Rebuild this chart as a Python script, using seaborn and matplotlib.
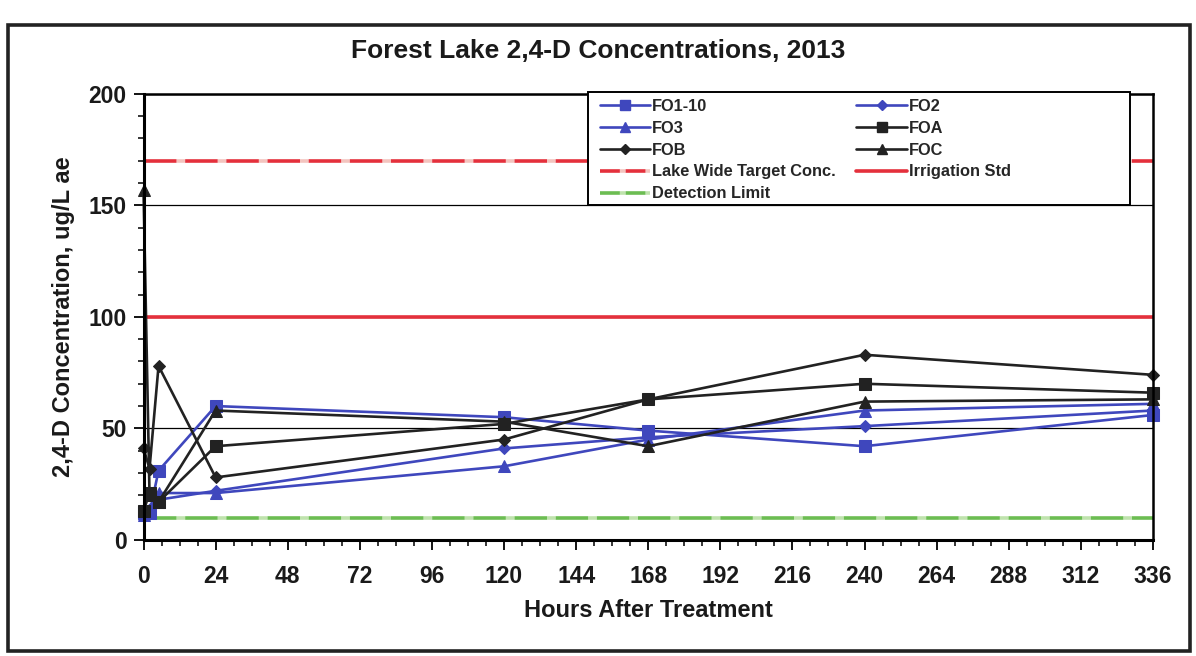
import matplotlib
matplotlib.use("Agg")
import matplotlib.pyplot as plt
from matplotlib.lines import Line2D
from matplotlib.patches import Rectangle
from matplotlib.ticker import MultipleLocator
import pandas as pd
import seaborn as sns

# Sampling times (hours after treatment) and 2,4-D concentrations (ug/L ae)
hours = [0, 2, 5, 24, 120, 168, 240, 336]
fo1_10 = [12, 12, 31, 60, 55, 49, 42, 56]
fo2 = [12, 14, 18, 22, 41, 46, 51, 58]
fo3 = [11, 13, 21, 21, 33, 45, 58, 61]
foa = [13, 21, 17, 42, 52, 63, 70, 66]
fob = [41, 32, 78, 28, 45, 63, 83, 74]
foc = [157, 20, 17, 58, 53, 42, 62, 63]

# Reference levels
lake_target = 170
irrigation_std = 100
detection_limit = 10

x_ticks = list(range(0, 337, 24))
y_ticks = [0, 50, 100, 150, 200]

sns.set_theme(style="white")
plt.rcParams["font.family"] = ["Liberation Sans", "DejaVu Sans"]
plt.rcParams["font.weight"] = "bold"

BLUE = "#3f47bd"
BLACK = "#222222"
RED = "#e4303c"
RED_GAP = "#f3c4bf"
GREEN = "#6cbd52"
GREEN_GAP = "#bfe3ad"
TEXT = "#1a1a1a"

fig = plt.figure(figsize=(11.96, 6.56), dpi=100)
ax = fig.add_axes([0.120, 0.177, 0.844, 0.680])

series = [
    ("FO1-10", fo1_10, BLUE, "s", 8),
    ("FO2", fo2, BLUE, "D", 6.5),
    ("FO3", fo3, BLUE, "^", 8.5),
    ("FOA", foa, BLACK, "s", 8),
    ("FOB", fob, BLACK, "D", 6.5),
    ("FOC", foc, BLACK, "^", 8.5),
]

# Reference lines underneath the data
ax.axhline(lake_target, color=RED, gapcolor=RED_GAP, lw=2.6,
           ls=(0, (9.0, 2.4)), zorder=1)
ax.axhline(irrigation_std, color=RED, lw=2.6, zorder=1)
ax.axhline(detection_limit, color=GREEN, gapcolor=GREEN_GAP, lw=2.6,
           ls=(0, (9.0, 2.4)), zorder=1)

handles = {}
for name, vals, color, marker, ms in series:
    df = pd.DataFrame({"hours": hours, "conc": vals})
    sns.lineplot(data=df, x="hours", y="conc", ax=ax, color=color,
                 marker=marker, markersize=ms, markeredgecolor=color,
                 linewidth=1.9, zorder=3, clip_on=False, legend=False)
    handles[name] = Line2D([], [], color=color, marker=marker,
                           markersize=ms * 0.85, markeredgecolor=color,
                           lw=1.9)

handles["Lake Wide Target Conc."] = Line2D([], [], color=RED, gapcolor=RED_GAP,
                                           lw=2.6, ls=(0, (5.5, 1.6)))
handles["Irrigation Std"] = Line2D([], [], color=RED, lw=2.6)
handles["Detection Limit"] = Line2D([], [], color=GREEN, gapcolor=GREEN_GAP,
                                    lw=2.6, ls=(0, (5.5, 1.6)))

# Legend box (white panel with black frame) and its entries
box = Rectangle((0.44, 0.751), 0.537, 0.253, transform=ax.transAxes,
                facecolor="white", edgecolor="black", lw=1.4, zorder=5,
                clip_on=False)
ax.add_patch(box)

order = ["FO1-10", "FO3", "FOB", "Lake Wide Target Conc.", "Detection Limit",
         "FO2", "FOA", "FOC", "Irrigation Std"]
leg = ax.legend([handles[k] for k in order], order, ncol=2,
                loc="upper left", bbox_to_anchor=(0.438, 1.02),
                frameon=False, handlelength=3.1, handletextpad=0.1,
                labelspacing=0.42, borderpad=0.35, columnspacing=1.25,
                prop={"size": 11.8, "weight": "bold"})
leg.set_zorder(6)

ax.set_xlim(0, 336)
ax.set_ylim(0, 200)
ax.set_xticks(x_ticks)
ax.set_yticks(y_ticks)
ax.xaxis.set_minor_locator(MultipleLocator(6))
ax.yaxis.set_minor_locator(MultipleLocator(10))
ax.tick_params(axis="both", which="major", direction="out", length=7,
               width=1.3, color="black", labelsize=16.5,
               bottom=True, left=True)
ax.tick_params(axis="x", which="major", pad=11)
ax.tick_params(axis="y", which="major", pad=5)
ax.tick_params(axis="both", which="minor", direction="out", length=4,
               width=1.1, color="black", bottom=True, left=True)
for lab in ax.get_xticklabels() + ax.get_yticklabels():
    lab.set_fontweight("bold")
    lab.set_color(TEXT)

ax.yaxis.grid(True, color="black", lw=0.9)
ax.set_axisbelow(True)
for side, sp in ax.spines.items():
    sp.set_visible(True)
    sp.set_color("black")
    sp.set_linewidth(2.2 if side in ("left", "bottom") else 1.8)
    sp.set_zorder(4)

ax.set_xlabel("Hours After Treatment", fontsize=17, fontweight="bold",
              color=TEXT, labelpad=8)
ax.set_ylabel("2,4-D Concentration, ug/L ae", fontsize=17,
              fontweight="bold", color=TEXT, labelpad=10)

fig.text(0.5, 0.922, "Forest Lake 2,4-D Concentrations, 2013", ha="center",
         va="center", fontsize=19, fontweight="bold", color=TEXT)

# Chart border
fig.patches.append(Rectangle((0.007, 0.008), 0.988, 0.954,
                             transform=fig.transFigure, fill=False,
                             edgecolor="#222222", lw=2.6, zorder=0))

fig.savefig("out.png", dpi=100, facecolor="white")
